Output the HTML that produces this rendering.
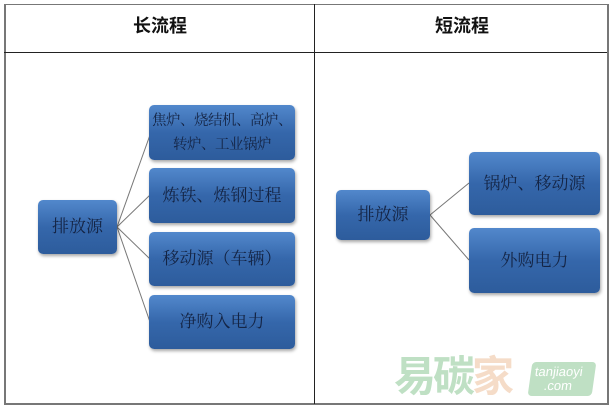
<!DOCTYPE html><html><head><meta charset="utf-8"><style>
body{margin:0;width:611px;height:408px;background:#fff;position:relative;overflow:hidden;font-family:"Liberation Serif","Noto Serif CJK SC",serif}
.b{position:absolute;border-radius:5px;background:linear-gradient(#5288cc,#3567ab 50%,#2d5c9c);box-shadow:1px 2px 3px rgba(0,0,0,.35);color:#142444;font-size:17px;display:flex;align-items:center;justify-content:center;text-align:center;line-height:26px;white-space:nowrap}
.l{position:absolute;background:#555}
.h{position:absolute;top:12px;font:bold 18px "Noto Sans CJK SC",sans-serif;color:#111}
</style></head><body>
<div style="position:absolute;left:4px;top:4px;width:601px;height:398px;border:1px solid #777;border-width:1px 2px 2px 2px"></div>
<div class="l" style="left:4px;top:52px;width:603px;height:1px;background:#222"></div>
<div class="l" style="left:314px;top:4px;width:1px;height:400px;background:#222"></div>
<div class="h" style="left:133px">长流程</div>
<div class="h" style="left:435px">短流程</div>
<svg width="611" height="408" style="position:absolute;left:0;top:0">
<g stroke="#777" stroke-width="1" fill="none">
<line x1="117" y1="227" x2="150" y2="135"/><line x1="117" y1="227" x2="150" y2="195"/>
<line x1="117" y1="227" x2="150" y2="259"/><line x1="117" y1="227" x2="150" y2="322"/>
<line x1="430" y1="215" x2="469" y2="183"/><line x1="430" y1="215" x2="469" y2="260"/>
</g></svg>
<div class="b" style="left:38px;top:200px;width:79px;height:54px">排放源</div>
<div class="b" style="left:149px;top:105px;width:146px;height:55px;font-size:14.5px;letter-spacing:-0.5px;line-height:24px">焦炉、烧结机、高炉、<br>转炉、工业锅炉</div>
<div class="b" style="left:149px;top:168px;width:146px;height:55px">炼铁、炼钢过程</div>
<div class="b" style="left:149px;top:232px;width:146px;height:54px">移动源（车辆）</div>
<div class="b" style="left:149px;top:295px;width:146px;height:54px">净购入电力</div>
<div class="b" style="left:336px;top:190px;width:94px;height:50px">排放源</div>
<div class="b" style="left:469px;top:152px;width:131px;height:63px">锅炉、移动源</div>
<div class="b" style="left:469px;top:228px;width:131px;height:65px">外购电力</div>
<div style="position:absolute;left:394px;top:350px;font:bold 42px/48px 'Noto Sans CJK SC',sans-serif;color:#bfe0c4;letter-spacing:-3px"><span>易碳</span><span style="color:#f5dcc8">家</span></div>
<div style="position:absolute;left:530px;top:362px;width:64px;height:34px;background:#bfe0c4;border-radius:4px;color:#fff;font:13px 'Liberation Sans',sans-serif;line-height:14px;padding:3px 0 0 4px;box-sizing:border-box;transform:skewX(-8deg)">tanjiaoyi<br>&nbsp;&nbsp;&nbsp;.com</div>
</body></html>
